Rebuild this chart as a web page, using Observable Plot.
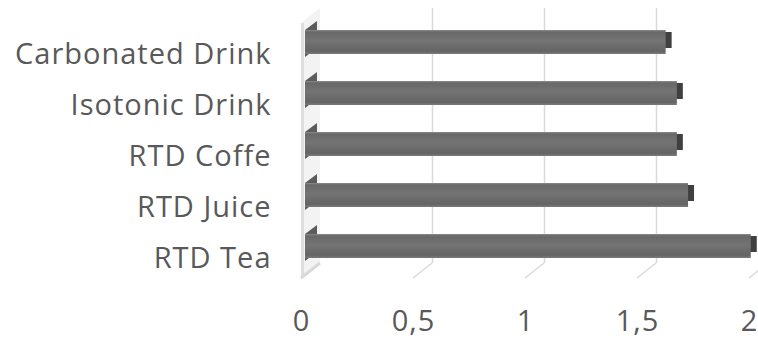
<!DOCTYPE html>
<html>
<head>
<meta charset="utf-8">
<script src="https://cdn.jsdelivr.net/npm/d3@7"></script>
<script src="https://cdn.jsdelivr.net/npm/@observablehq/plot@0.6"></script>
<style>
  html, body { margin: 0; padding: 0; background: #fff; }
  #chart svg { display: block; }
</style>
</head>
<body>
<div id="chart"></div>
<script>
// Beverage categories, listed top to bottom
const categories = ["Carbonated Drink", "Isotonic Drink", "RTD Coffe", "RTD Juice", "RTD Tea"];
// Mean score per category
const values = [1.61, 1.66, 1.66, 1.71, 1.99];
// Value axis ticks
const tickValues = [0, 0.5, 1, 1.5, 2];

const data = categories.map((c, i) => ({category: c, value: values[i]}));

// Depth offset of the back plane (pseudo-3D look)
const DEPTH_X = 19, DEPTH_Y = -15;
const BAR_SHIFT = 4;

const fmt = d => String(d).replace(".", ",");

// Side wall and floor edges, placed with the x scale
function wallAndFloor(index, scales, values, dim) {
  const x = scales.x;
  const top = dim.marginTop, bottom = dim.height - dim.marginBottom;
  const g = d3.create("svg:g");
  const x0 = x(0);
  g.append("path")
    .attr("d", `M${x0},${top}L${x0 + DEPTH_X},${top + DEPTH_Y}L${x0 + DEPTH_X},${bottom + DEPTH_Y}L${x0},${bottom}Z`)
    .attr("fill", "#f3f3f3");
  g.append("line")
    .attr("x1", x0 + 1.5).attr("x2", x0 + 1.5).attr("y1", top).attr("y2", bottom)
    .attr("stroke", "#dedede").attr("stroke-width", 3);
  for (const v of tickValues) {
    g.append("line")
      .attr("x1", x(v)).attr("y1", bottom)
      .attr("x2", x(v) + DEPTH_X).attr("y2", bottom + DEPTH_Y)
      .attr("stroke", "#d9d9d9").attr("stroke-width", v === 0 ? 3 : 1.5);
  }
  return g.node();
}

// Shadowed left ends of the bars against the wall
function barEnds(index, scales, values, dim) {
  const x = scales.x, y = scales.y;
  const bw = y.bandwidth();
  const g = d3.create("svg:g");
  for (const d of data) {
    const x0 = x(0) + BAR_SHIFT, t = y(d.category), b = t + bw;
    g.append("path")
      .attr("d", `M${x0},${b + 3}L${x0},${t}L${x0 + 12},${t - 9}L${x0 + 12},${b - 6}Z`)
      .attr("fill", "#5c5c5c");
  }
  return g.node();
}

const plot = Plot.plot({
  width: 758,
  height: 345,
  marginLeft: 301,
  marginRight: 9,
  marginTop: 23,
  marginBottom: 67,
  style: {fontFamily: "'Open Sans', sans-serif", color: "#595959", background: "#fff", letterSpacing: "1px"},
  x: {domain: [0, 2]},
  y: {domain: categories, range: [29.5, 257.5], paddingInner: 0.53, paddingOuter: 0},
  marks: [
    wallAndFloor,
    Plot.ruleX(tickValues.filter(v => v > 0), {dx: DEPTH_X, dy: DEPTH_Y, stroke: "#d9d9d9", strokeWidth: 1.5}),
    barEnds,
    // right end faces of the bars
    Plot.barX(data, {x: "value", y: "category", fill: "#404040", dx: BAR_SHIFT + 6, insetTop: 2, insetBottom: 6}),
    // front faces
    Plot.barX(data, {x: "value", y: "category", fill: "url(#barFace)", dx: BAR_SHIFT}),
    Plot.axisX({ticks: tickValues, tickFormat: fmt, tickSize: 0, tickPadding: 32, fontSize: 29, fill: "#595959", label: null}),
    Plot.axisY({tickSize: 0, tickPadding: 30, dy: 12, fontSize: 29, fill: "#595959", label: null})
  ]
});

// vertical shading of the bar faces
const defs = d3.create("svg:defs");
const grad = defs.append("linearGradient").attr("id", "barFace").attr("x1", 0).attr("y1", 0).attr("x2", 0).attr("y2", 1);
[["0%", "#8c8c8c"], ["8%", "#686868"], ["45%", "#747474"], ["88%", "#646464"], ["100%", "#7a7a7a"]]
  .forEach(([o, c]) => grad.append("stop").attr("offset", o).attr("stop-color", c));
plot.insertBefore(defs.node(), plot.firstChild);

document.getElementById("chart").appendChild(plot);
</script>
</body>
</html>
